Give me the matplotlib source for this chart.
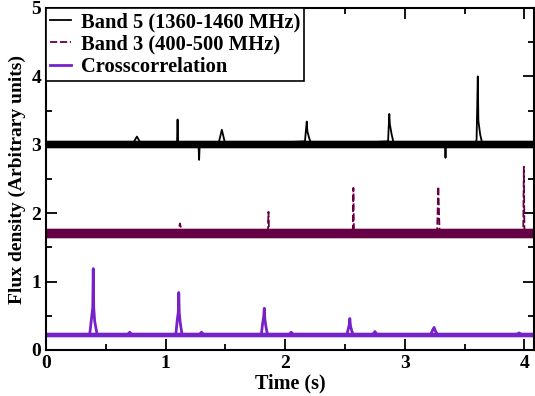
import matplotlib
matplotlib.use("Agg")
import matplotlib.pyplot as plt
from matplotlib.ticker import MultipleLocator

# series: center line vertices + noise band
t_end = 4.08

band5_base = 3.0
band5_noise = 0.05
band5_t = [0, 0.72, 0.76, 0.80, 1.095, 1.10, 1.105, 1.275, 1.28, 1.285, 1.44, 1.47, 1.50,
           2.165, 2.18, 2.185, 2.20, 2.22, 2.86, 2.87, 2.875, 2.89, 2.91,
           3.335, 3.34, 3.345, 3.59, 3.60, 3.61, 3.615, 3.63, 3.65, 4.08]
band5_v = [3.0, 3.0, 3.12, 3.0, 3.0, 3.37, 3.0, 3.0, 2.78, 3.0, 3.0, 3.22, 3.0,
           3.05, 3.34, 3.2, 3.1, 3.0, 3.05, 3.45, 3.3, 3.15, 3.0,
           3.0, 2.81, 3.0, 3.0, 3.08, 4.0, 3.35, 3.15, 3.0, 3.0]

band3_base = 1.7
band3_noise = 0.065
band3_t = [0, 1.10, 1.12, 1.14, 1.855, 1.86, 1.865, 2.565, 2.57, 2.575,
           3.27, 3.28, 3.29, 3.99, 3.995, 4.0, 4.08]
band3_v = [1.7, 1.7, 1.85, 1.7, 1.7, 2.02, 1.7, 1.7, 2.37, 1.7,
           1.75, 2.39, 1.75, 1.75, 2.68, 1.75, 1.7]

cc_base = 0.22
cc_noise = 0.028
cc_t = [0, 0.365, 0.383, 0.391, 0.395, 0.399, 0.407, 0.428,
        0.68, 0.70, 0.72,
        1.085, 1.098, 1.106, 1.11, 1.114, 1.122, 1.138,
        1.28, 1.30, 1.32,
        1.80, 1.812, 1.82, 1.825, 1.83, 1.838, 1.852,
        2.03, 2.05, 2.07,
        2.515, 2.53, 2.537, 2.54, 2.545, 2.553, 2.568,
        2.73, 2.75, 2.77,
        3.215, 3.235, 3.245, 3.255, 3.275,
        3.93, 3.955, 3.98, 4.08]
cc_v = [0.22, 0.22, 0.5, 0.62, 1.19, 0.62, 0.42, 0.22,
        0.22, 0.26, 0.22,
        0.22, 0.45, 0.55, 0.84, 0.55, 0.4, 0.22,
        0.22, 0.26, 0.22,
        0.22, 0.4, 0.48, 0.61, 0.45, 0.35, 0.22,
        0.22, 0.26, 0.22,
        0.22, 0.33, 0.38, 0.46, 0.36, 0.3, 0.22,
        0.22, 0.27, 0.22,
        0.22, 0.3, 0.33, 0.28, 0.22,
        0.22, 0.25, 0.22, 0.22]

labels = ["Band 5 (1360-1460 MHz)", "Band 3 (400-500 MHz)", "Crosscorrelation"]
colors = ["black", "#660044", "#7722c8"]
widths = [1.3, 1.3, 2.0]

plt.rcParams["font.family"] = ["Liberation Serif", "DejaVu Serif"]
plt.rcParams["font.weight"] = "bold"

fig = plt.figure(figsize=(5.35, 3.96), dpi=100)
ax = fig.add_axes([46 / 535, 1 - 350 / 396, 488 / 535, 342 / 396])

series = [(band5_t, band5_v, band5_base, band5_noise, "-"),
          (band3_t, band3_v, band3_base, band3_noise, "--"),
          (cc_t, cc_v, cc_base, cc_noise, "-")]

for (t, v, base, w, ls), lab, c, lw in zip(series, labels, colors, widths):
    ax.fill_between([0, t_end], base - w - 0.015, base + w + 0.015, color=c, alpha=0.3, lw=0)
    ax.fill_between([0, t_end], base - w, base + w, color=c, lw=0)
    ax.plot(t, v, color=c, lw=lw, ls=ls, label=lab, dashes=(4, 1.5) if ls == "--" else (None, None))

ax.set_xlim(0, t_end)
ax.set_ylim(0, 5)
ax.xaxis.set_major_locator(MultipleLocator(1))
ax.xaxis.set_minor_locator(MultipleLocator(0.5))
ax.yaxis.set_major_locator(MultipleLocator(1))
ax.yaxis.set_minor_locator(MultipleLocator(0.5))
ax.tick_params(which="both", direction="in", top=True, right=True, width=1.3, labelsize=14)
ax.tick_params(which="major", length=8)
ax.tick_params(which="minor", length=4)
for s in ax.spines.values():
    s.set_linewidth(1.5)

ax.set_xlabel("Time (s)", fontsize=14.5, fontweight="bold", labelpad=1)
ax.set_ylabel("Flux density (Arbitrary units)", fontsize=14, fontweight="bold", labelpad=4)

leg = ax.legend(loc="upper left", borderaxespad=0, fancybox=False, framealpha=1,
                edgecolor="black", handlelength=1.0, handletextpad=0.5,
                borderpad=0.2, labelspacing=0.12, prop={"weight": "bold", "size": 14.8})
leg.get_frame().set_linewidth(1.2)

fig.savefig("out.png", dpi=100)
